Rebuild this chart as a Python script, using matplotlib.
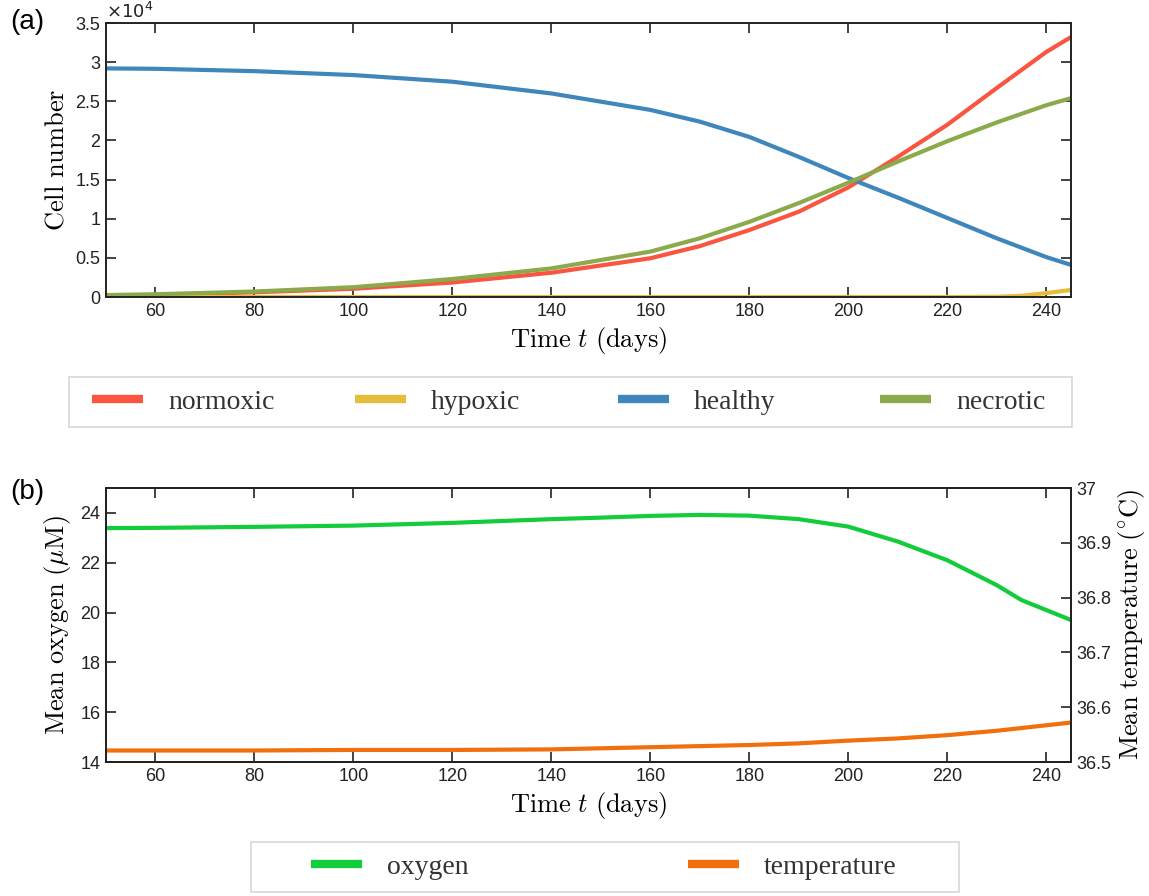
import numpy as np
import matplotlib
matplotlib.use('Agg')
import matplotlib.pyplot as plt
from matplotlib.ticker import FuncFormatter
from matplotlib.patches import Rectangle

plt.rc('font', family='Liberation Sans', size=13)
plt.rc('mathtext', fontset='cm')
plt.rc('axes', linewidth=1.4, edgecolor='#222222')
plt.rc('xtick', color='#222222', labelsize=13)
plt.rc('ytick', color='#222222', labelsize=13)

# panel (a): cell populations
days_a = [50, 60, 80, 100, 120, 140, 160, 170, 180, 190, 200, 210, 220, 230, 235, 240, 245]
normoxic = [150, 250, 600, 1050, 1850, 3100, 4950, 6500, 8550, 10900, 14000, 17900, 22000,
            26700, 29000, 31300, 33200]
hypoxic = [0, 0, 0, 0, 0, 0, 0, 0, 0, 0, 0, 0, 0, 30, 150, 500, 900]
healthy = [29200, 29150, 28850, 28350, 27500, 26000, 23900, 22400, 20450, 17900, 15200,
           12700, 10100, 7500, 6300, 5100, 4100]
necrotic = [250, 350, 700, 1250, 2300, 3650, 5800, 7500, 9600, 12000, 14600, 17300, 19900,
            22300, 23400, 24500, 25400]

# panel (b): oxygen and temperature
days_b = [50, 60, 80, 100, 120, 140, 150, 160, 170, 180, 190, 200, 210, 220, 230, 235, 240, 245]
oxygen = [23.39, 23.40, 23.44, 23.49, 23.60, 23.75, 23.81, 23.88, 23.92, 23.89, 23.75, 23.45,
          22.85, 22.10, 21.10, 20.50, 20.10, 19.70]
temperature = [36.521, 36.521, 36.521, 36.522, 36.522, 36.523, 36.525, 36.527, 36.529, 36.531,
               36.534, 36.539, 36.543, 36.549, 36.557, 36.562, 36.567, 36.572]

labels_a = ['normoxic', 'hypoxic', 'healthy', 'necrotic']
colors_a = ['#FA5541', '#E4BE3A', '#3F86BC', '#8AAA4B']
c_oxy = '#12CC3C'
c_temp = '#F0700E'

fig = plt.figure(figsize=(11.49, 8.96), dpi=100)
L, W = 106/1149, 965/1149
ax1 = fig.add_axes([L, 1-297/896, W, 274/896])
ax2 = fig.add_axes([L, 1-762/896, W, 274/896])

xlab = r'$\mathrm{Time}\ t\ \mathrm{(days)}$'

for y, c, lab in zip([normoxic, hypoxic, healthy, necrotic], colors_a, labels_a):
    ax1.plot(days_a, y, color=c, lw=3, label=lab)
ax1.set_xlim(50, 245)
ax1.set_ylim(0, 35000)
ax1.set_xticks(np.arange(60, 241, 20))
ax1.set_yticks(np.arange(0, 35001, 5000))
ax1.yaxis.set_major_formatter(FuncFormatter(lambda v, p: '%g' % (v/1e4)))
ax1.tick_params(direction='in', length=7, width=1.2, top=True, right=True, pad=4)
ax1.set_ylabel(r'$\mathrm{Cell\ number}$', fontsize=19, labelpad=5)
ax1.set_xlabel(xlab, fontsize=19, labelpad=4)
ax1.text(0.0, 1.003, r'$\times10^{4}$', transform=ax1.transAxes, fontsize=13,
         math_fontfamily='dejavusans', ha='left', va='bottom', color='#222222')

ax2.plot(days_b, oxygen, color=c_oxy, lw=3, label='oxygen')
ax2.set_xlim(50, 245)
ax2.set_ylim(14, 25)
ax2.set_xticks(np.arange(60, 241, 20))
ax2.set_yticks(np.arange(14, 25, 2))
ax2.tick_params(direction='in', length=7, width=1.2, top=True, right=False, pad=4)
ax2.set_ylabel(r'$\mathrm{Mean\ oxygen}\ (\mu\mathrm{M})$', fontsize=19, labelpad=5)
ax2.set_xlabel(xlab, fontsize=19, labelpad=4)

ax3 = ax2.twinx()
ax3.plot(days_b, temperature, color=c_temp, lw=3, label='temperature')
ax3.set_ylim(36.5, 37)
ax3.set_yticks([36.5, 36.6, 36.7, 36.8, 36.9, 37])
ax3.yaxis.set_major_formatter(FuncFormatter(lambda v, p: '%g' % round(v, 1)))
ax3.tick_params(direction='in', length=7, width=1.2, pad=4)
ax3.set_ylabel(r'$\mathrm{Mean\ temperature}\ (^{\circ}\mathrm{C})$', fontsize=19, labelpad=3)

fig.text(10/1149, 1-22/896, '(a)', fontsize=20, va='center', ha='left')
fig.text(10/1149, 1-492/896, '(b)', fontsize=20, va='center', ha='left')


def legend_box(handles, xs, yc, box):
    # one frameless legend per entry so the columns sit at even spacing
    x0, y0, x1, y1 = box
    fig.patches.append(Rectangle((x0/1149, 1-y1/896), (x1-x0)/1149, (y1-y0)/896,
                                 transform=fig.transFigure, fill=False,
                                 edgecolor='#d8d8d8', lw=1.2))
    for h, x in zip(handles, xs):
        lg = fig.legend([h], [h.get_label()], loc='center left', frameon=False,
                        bbox_to_anchor=(x/1149, 1-yc/896), borderpad=0, borderaxespad=0,
                        prop={'family': 'Liberation Serif', 'size': 20},
                        handlelength=1.84, handletextpad=0.9)
        for ln in lg.get_lines():
            ln.set_linewidth(6)
            ln.set_solid_capstyle('butt')
        for t in lg.get_texts():
            t.set_color('#333333')


legend_box(ax1.get_lines(), [92, 355, 618, 880], 402, (69, 377, 1072, 427))
legend_box(ax2.get_lines() + ax3.get_lines(), [311, 688], 867, (251, 842, 959, 892))

fig.savefig('out.png', dpi=100)
